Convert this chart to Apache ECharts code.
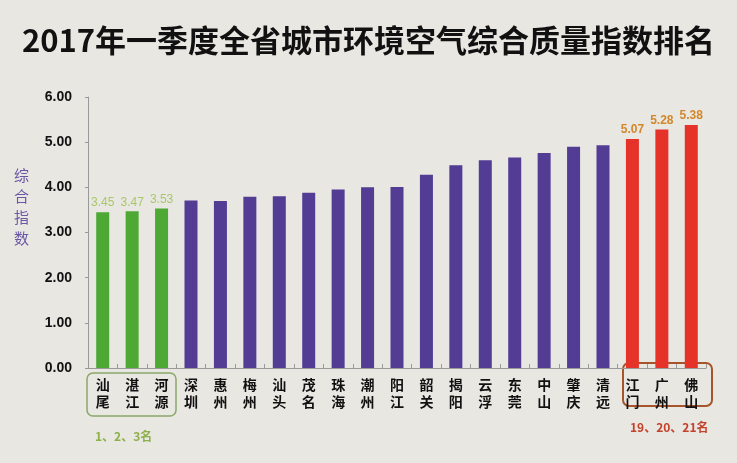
<!DOCTYPE html>
<html><head><meta charset="utf-8">
<script src="https://cdn.jsdelivr.net/npm/echarts@6/dist/echarts.min.js"></script>
<style>html,body{margin:0;padding:0;background:#e8e7e2;}#c{width:737px;height:463px;}</style>
</head><body><div id="c"></div>
<script>
var cities = ['汕尾','湛江','河源','深圳','惠州','梅州','汕头','茂名','珠海','潮州','阳江','韶关','揭阳','云浮','东莞','中山','肇庆','清远','江门','广州','佛山'];
var values = [3.45,3.47,3.53,3.71,3.70,3.79,3.80,3.88,3.95,4.00,4.01,4.28,4.49,4.60,4.66,4.76,4.90,4.93,5.07,5.28,5.38];
var groups = ['best','best','best','mid','mid','mid','mid','mid','mid','mid','mid','mid','mid','mid','mid','mid','mid','mid','worst','worst','worst'];
var yTicks = [0,1,2,3,4,5,6];
var titleText = '2017年一季度全省城市环境空气综合质量指数排名';
var yName = '综合指数';
var bestNote = '1、2、3名';
var worstNote = '19、20、21名';

var colors = {best:'#4ea834', mid:'#523c94', worst:'#e5332a'};
var labelColors = {best:'#a9c76a', worst:'#d2872c'};

var data = values.map(function(v,i){
  var g = groups[i];
  var d = {value:v, itemStyle:{color:colors[g]}};
  if (g !== 'mid') {
    d.label = {show:true, position:'top', distance:3, formatter:function(p){return p.value.toFixed(2);},
      color:labelColors[g], fontSize:12, fontFamily:'Liberation Sans',
      fontWeight: g==='worst' ? 'bold':'normal'};
  } else {
    d.label = {show:false};
  }
  return d;
});

var chart = echarts.init(document.getElementById('c'));
chart.setOption({
  backgroundColor:'#e8e7e2',
  animation:false,
  title:{text:titleText, left:'center', top:20,
    textStyle:{fontSize:31, fontWeight:'bold', color:'#111', fontFamily:'Noto Sans CJK SC'}},
  grid:{left:88, right:31, top:97, bottom:95},
  xAxis:{type:'category', data:cities,
    axisLine:{lineStyle:{color:'#999'}},
    axisTick:{show:true, inside:true, length:4, lineStyle:{color:'#999'}},
    axisLabel:{interval:0, margin:8, color:'#111', fontSize:14, fontWeight:'bold', lineHeight:17,
      fontFamily:'Noto Sans CJK SC',
      formatter:function(v){return v.split('').join('\n');}}},
  yAxis:{type:'value', min:0, max:6, interval:1,
    splitLine:{show:false},
    axisLine:{show:true, lineStyle:{color:'#999'}},
    axisTick:{show:true, length:3, lineStyle:{color:'#999'}},
    axisLabel:{margin:16, color:'#111', fontSize:14, fontWeight:'bold', fontFamily:'Liberation Sans',
      formatter:function(v){return yTicks.indexOf(v)>=0 ? v.toFixed(2) : '';}}},
  series:[{type:'bar', data:data, barWidth:13}],
  graphic:[
    {type:'text', left:14, top:165, style:{text:yName.split('').join('\n'), fill:'#6a58a6', fontSize:15, lineHeight:21, fontFamily:'Noto Sans CJK SC'}},
    {type:'rect', shape:{x:87, y:373, width:89, height:43, r:6}, style:{fill:'none', stroke:'#8aa86a', lineWidth:1.5}},
    {type:'rect', shape:{x:623, y:363, width:89, height:43, r:6}, style:{fill:'none', stroke:'#a8542a', lineWidth:2}},
    {type:'text', left:95, top:430, style:{text:bestNote, fill:'#8db04a', fontSize:12, fontWeight:'bold', fontFamily:'Noto Sans CJK SC'}},
    {type:'text', left:630, top:421, style:{text:worstNote, fill:'#c4412a', fontSize:12, fontWeight:'bold', fontFamily:'Noto Sans CJK SC'}}
  ]
});
</script></body></html>
